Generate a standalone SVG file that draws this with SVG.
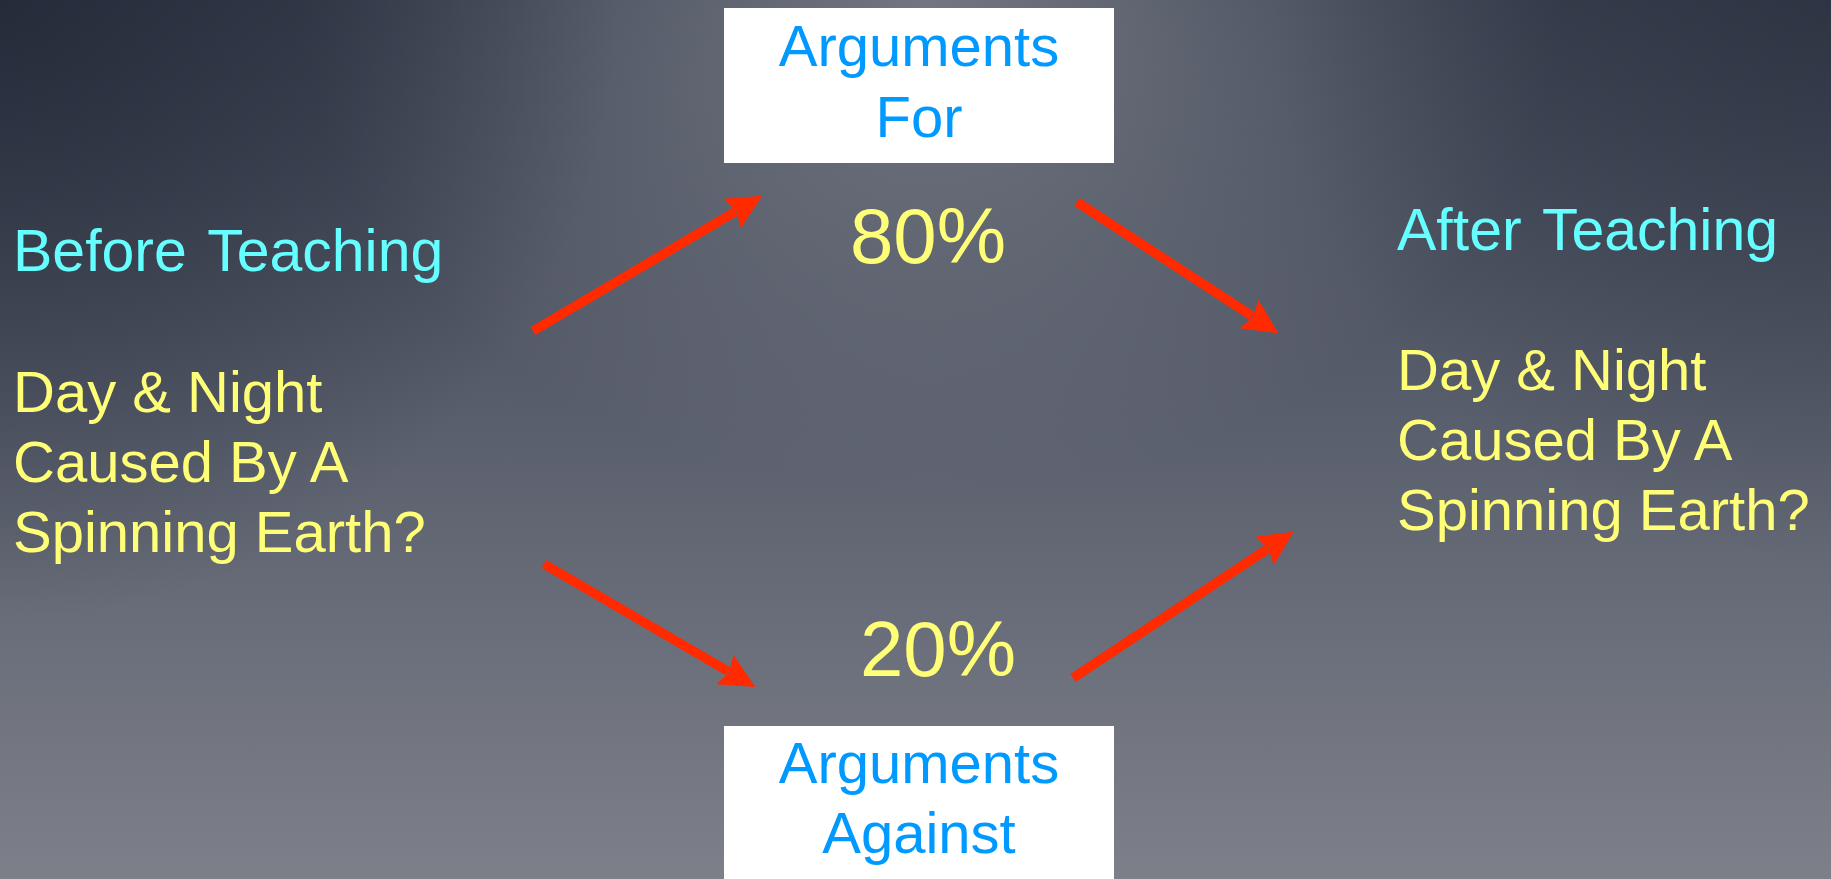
<svg xmlns="http://www.w3.org/2000/svg" width="1831" height="879" viewBox="0 0 1831 879">
  <defs>
    <linearGradient id="bgV" x1="0" y1="0" x2="0" y2="1">
      <stop offset="0" stop-color="#3a4150"/>
      <stop offset="0.5" stop-color="#5b606e"/>
      <stop offset="1" stop-color="#7d8089"/>
    </linearGradient>
    <radialGradient id="glowTop" gradientUnits="userSpaceOnUse" cx="930" cy="0" r="700" gradientTransform="translate(930 0) scale(0.9 0.7) translate(-930 0)">
      <stop offset="0" stop-color="#8a8d97" stop-opacity="0.7"/>
      <stop offset="1" stop-color="#8a8d97" stop-opacity="0"/>
    </radialGradient>
    <radialGradient id="shadeTL" gradientUnits="userSpaceOnUse" cx="0" cy="0" r="620">
      <stop offset="0" stop-color="#1e2432" stop-opacity="0.75"/>
      <stop offset="1" stop-color="#1e2432" stop-opacity="0"/>
    </radialGradient>
    <radialGradient id="shadeTR" gradientUnits="userSpaceOnUse" cx="1831" cy="0" r="560">
      <stop offset="0" stop-color="#232a38" stop-opacity="0.55"/>
      <stop offset="1" stop-color="#232a38" stop-opacity="0"/>
    </radialGradient>
    <marker id="head" markerUnits="userSpaceOnUse" markerWidth="40" markerHeight="40" refX="4" refY="17" orient="auto">
      <path d="M0,0 L35,17 L0,34 L5,17 Z" fill="#ff2a00"/>
    </marker>
    <style>
      .box { fill: #ffffff; }
      .boxText { font-family: "Liberation Sans", Arial, sans-serif; font-size: 58px; fill: #0099ff; text-anchor: middle; }
      .title { font-family: "Liberation Sans", Arial, sans-serif; font-size: 59px; fill: #66ffff; word-spacing: 5px; }
      .body { font-family: "Liberation Sans", Arial, sans-serif; font-size: 58px; fill: #ffff77; }
      .pct { font-family: "Liberation Sans", Arial, sans-serif; font-size: 78px; fill: #ffff77; text-anchor: middle; }
      .arrow { stroke: #ff2a00; stroke-width: 9.5; fill: none; marker-end: url(#head); }
    </style>
  </defs>

  <!-- backdrop -->
  <rect x="0" y="0" width="1831" height="879" fill="url(#bgV)"/>
  <rect x="0" y="0" width="1831" height="879" fill="url(#glowTop)"/>
  <rect x="0" y="0" width="1831" height="879" fill="url(#shadeTL)"/>
  <rect x="0" y="0" width="1831" height="879" fill="url(#shadeTR)"/>

  <!-- connectors -->
  <g id="connectors">
    <line class="arrow" x1="533" y1="331" x2="735.6" y2="211.5"/>
    <line class="arrow" x1="1077" y1="202" x2="1252.4" y2="316.3"/>
    <line class="arrow" x1="544" y1="564" x2="728.4" y2="671.5"/>
    <line class="arrow" x1="1073" y1="678" x2="1267.7" y2="548.8"/>
  </g>

  <g id="before">
    <text class="title" x="13" y="271">Before Teaching</text>
    <text class="body" x="13" y="412">Day &amp; Night</text>
    <text class="body" x="13" y="482">Caused By A</text>
    <text class="body" x="13" y="552">Spinning Earth?</text>
  </g>

  <g id="after">
    <text class="title" x="1397" y="250">After Teaching</text>
    <text class="body" x="1397" y="390">Day &amp; Night</text>
    <text class="body" x="1397" y="460">Caused By A</text>
    <text class="body" x="1397" y="530">Spinning Earth?</text>
  </g>

  <g id="argumentsFor">
    <rect class="box" x="724" y="8" width="390" height="155"/>
    <text class="boxText" x="919" y="66">Arguments</text>
    <text class="boxText" x="919" y="137">For</text>
  </g>

  <g id="argumentsAgainst">
    <rect class="box" x="724" y="726" width="390" height="160"/>
    <text class="boxText" x="919" y="783">Arguments</text>
    <text class="boxText" x="919" y="853">Against</text>
  </g>

  <g id="pctFor">
    <text class="pct" x="928" y="263">80%</text>
  </g>

  <g id="pctAgainst">
    <text class="pct" x="938" y="676">20%</text>
  </g>
</svg>
